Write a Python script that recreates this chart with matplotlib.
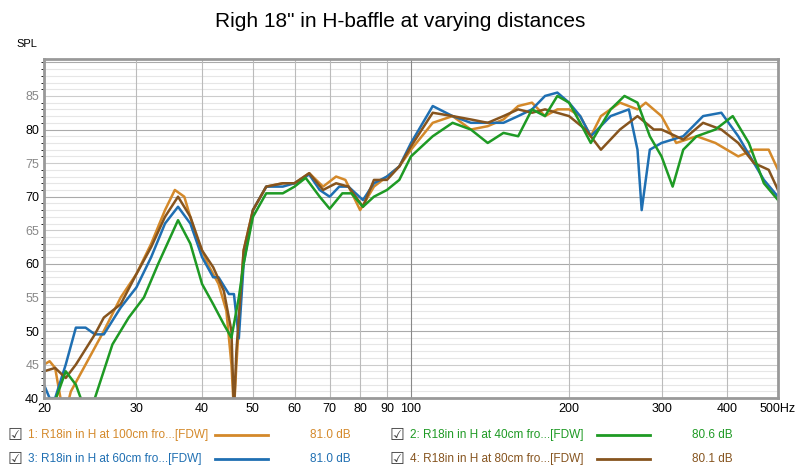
import matplotlib
matplotlib.use("Agg")
import matplotlib.pyplot as plt
from matplotlib.lines import Line2D
from matplotlib.ticker import FixedLocator, NullFormatter

plt.rcParams["font.family"] = ["Liberation Sans", "DejaVu Sans"]

f1 = [20,20.5,21,21.5,22,22.5,24,26,28,30,32,34,35.5,37,39,41,43,44.5,45.5,46,46.5,48,50,53,57,60,64,68,72,75,80,85,90,95,100,
      110,120,130,140,150,160,170,180,190,200,210,220,230,250,270,280,300,320,350,380,420,450,480,500]
s1 = [45,45.5,44.5,40,38,41,45,50,55,58.5,63,68,71,70,64,60,57,53,45,38,45,62,68,71.5,72,72,73.5,71.5,73,72.5,68,71.5,73,74.5,77,
      81,82,80,80.5,81.5,83.5,84,82,83,83,82,79,82,84,83,84,82,78,79,78,76,77,77,74]
f2 = [20,22,23,24,25,27,29,31,33,36,38,40,42,44,45.5,47,48,50,53,57,60,63,67,70,74,77,81,85,90,95,100,
      110,120,130,140,150,160,170,180,190,200,210,220,240,255,270,285,300,315,330,350,380,410,440,470,500]
s2 = [35,44,42,38,40,48,52,55,60,66.5,63,57,54,51,49,55,60,67,70.5,70.5,71.5,72.8,70,68.2,70.5,70.5,68.5,70,71,72.5,76,
      79,81,80,78,79.5,79,83,82,85,84,81,78,83,85,84,79,76,71.5,77,79,80,82,78,72,69.5]
f3 = [20,20.5,21,22,23,24,25,26,28,30,32,34,36,38,40,42,43,45,46,47,48,50,53,57,60,64,67,70,73,76,81,85,90,95,100,
      110,120,130,140,150,160,170,180,190,200,210,220,240,260,270,275,285,300,330,360,390,420,450,470,500]
s3 = [42,40,40,45,50.5,50.5,49.5,49.5,53.5,56.5,61,66,68.5,66,61,58,58,55.5,55.5,48.9,60,68,71.5,71.5,72,73.3,71,70,71.5,71.5,69.5,72,73,74.5,78,
      83.5,82,81,81,81,82,83,85,85.5,84,82,79,82,83,77,68,77,78,79,82,82.5,79,75,72.5,70]
f4 = [20,21,22,23,25,26,28,30,32,34,36,38,40,42,44,45.5,46,46.5,48,50,53,57,60,64,68,72,76,81,85,90,95,100,
      110,120,130,140,150,160,170,180,200,215,230,250,270,290,300,330,360,390,420,450,480,500]
s4 = [44,44.5,43,45,49.5,52,54,58.5,62.5,67,70,67,62,59.5,56,50,38,47,62,68,71.5,72,72,73.5,71,72,71.5,68.5,72.5,72.5,74.5,77.5,
      82.5,82,81.5,81,82,83,82.5,83,82,80,77,80,82,80,80,78.5,81,80,78,75,74,71]

labels = ["1: R18in in H at 100cm fro...[FDW]", "2: R18in in H at 40cm fro...[FDW]",
          "3: R18in in H at 60cm fro...[FDW]", "4: R18in in H at 80cm fro...[FDW]"]
levels = ["81.0 dB", "80.6 dB", "81.0 dB", "80.1 dB"]
colors = ["#d4892a", "#1e9a24", "#1f6fb2", "#86541e"]
xticks = [20,30,40,50,60,70,80,90,100,200,300,400,500]
xticklabels = ["20","30","40","50","60","70","80","90","100","200","300","400","500Hz"]

fig = plt.figure(figsize=(8,4.74), dpi=100)
ax = fig.add_axes([0.055, 0.16, 0.9175, 0.7155])
for f, s, c in [(f1,s1,colors[0]),(f3,s3,colors[2]),(f4,s4,colors[3]),(f2,s2,colors[1])]:
    ax.plot(f, s, color=c, lw=1.8)
ax.set_xscale("log")
ax.set_xlim(20, 500)
ax.set_ylim(40, 90.5)
ax.xaxis.set_major_locator(FixedLocator(xticks))
ax.xaxis.set_minor_locator(FixedLocator([]))
ax.set_xticklabels(xticklabels)
ax.xaxis.set_minor_formatter(NullFormatter())
ax.set_yticks(range(40, 90, 5))
ax.set_yticks(range(40, 91), minor=True)
for y in range(40, 91):
    ax.axhline(y, color="#aaaaaa" if y % 10 == 0 else ("#cccccc" if y % 5 == 0 else "#e6e6e6"), lw=0.8, zorder=0)
for x in xticks:
    ax.axvline(x, color="#888888" if x == 100 else "#bbbbbb", lw=0.8, zorder=0)
ax.tick_params(length=0, labelsize=9)
for i, lab in enumerate(ax.get_yticklabels()):
    lab.set_color("black" if (40 + 5*i) % 10 == 0 else "#888888")
for sp in ax.spines.values():
    sp.set_color("#999999"); sp.set_linewidth(2)
fig.text(0.5, 0.955, "Righ 18\" in H-baffle at varying distances", ha="center", va="center", fontsize=15)
fig.text(0.02, 0.9, "SPL", fontsize=8)

rows = [(0, 435), (1, 435), (2, 459), (3, 459)]
for idx, ypx in rows:
    x0 = 8 if idx in (0, 2) else 390
    y = 1 - ypx / 474
    fig.text(x0/800, y, "\u2611", fontsize=12, va="center", color="#444444", family="DejaVu Sans")
    fig.text((x0+20)/800, y, labels[idx], fontsize=8.5, va="center", color=colors[idx])
    fig.add_artist(Line2D([(x0+207)/800, (x0+260)/800], [y, y], color=colors[idx], lw=2, transform=fig.transFigure))
    fig.text((x0+302)/800, y, levels[idx], fontsize=8.5, va="center", color=colors[idx])
fig.savefig("out.png")
